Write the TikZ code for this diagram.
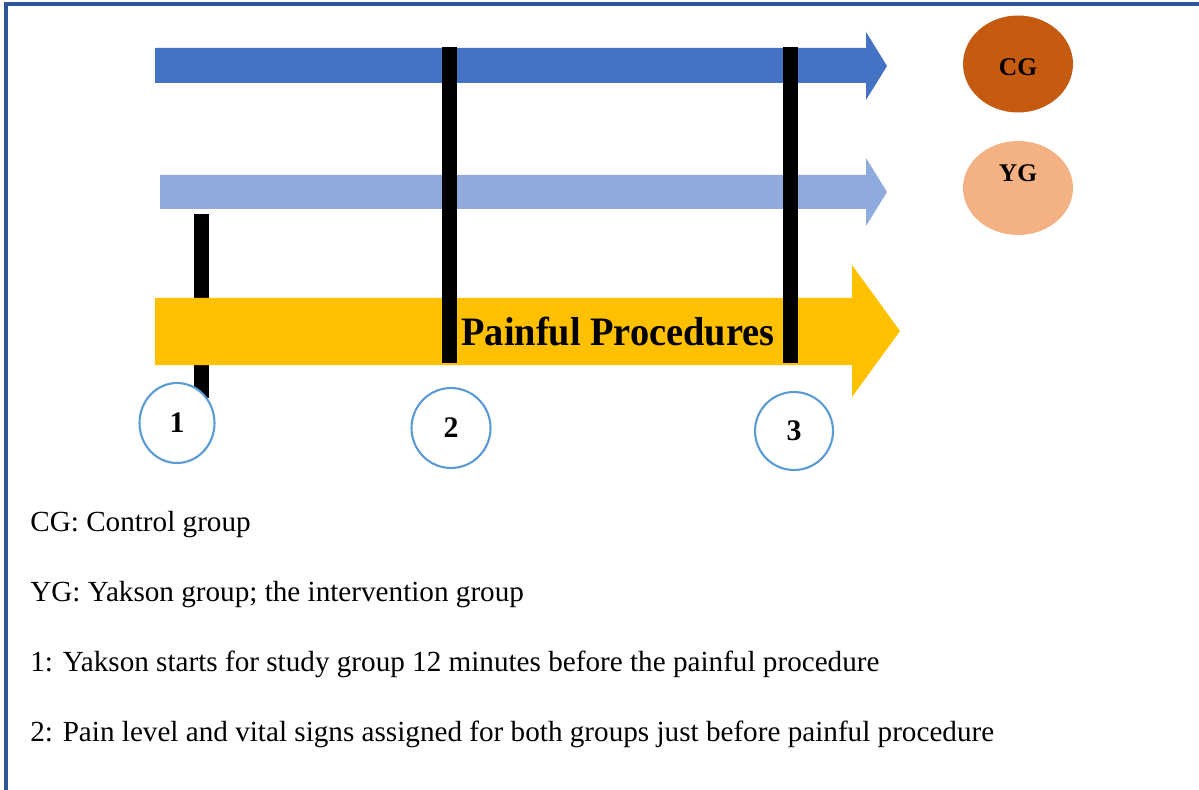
\documentclass[tikz,border=0pt]{standalone}
\usepackage{fontspec}
\setmainfont{Liberation Serif}
\usetikzlibrary{shapes.geometric}
\definecolor{framec}{HTML}{2F5597}
\definecolor{cgblue}{HTML}{4472C4}
\definecolor{ygblue}{HTML}{8FAADC}
\definecolor{procyel}{HTML}{FFC000}
\definecolor{cgorange}{HTML}{C55A11}
\definecolor{ygorange}{HTML}{F4B183}
\definecolor{circc}{HTML}{5B9BD5}
\tikzset{
  bar/.style={fill=black},
  stepcirc/.style={ellipse, draw=circc, line width=1.2pt, fill=white, inner sep=0pt,
     minimum width=1.5cm, minimum height=1.6cm, font=\fontsize{17}{19}\selectfont\bfseries},
  groupell/.style={ellipse, inner sep=0pt, minimum width=2.2cm, minimum height=1.94cm},
  grouplbl/.style={inner sep=0pt, font=\fontsize{14.5}{16}\selectfont\bfseries},
  legend/.style={anchor=base west, inner sep=0pt, font=\fontsize{16.6}{20}\selectfont}
}
\begin{document}
\begin{tikzpicture}[x=0.02cm,y=-0.02cm]
\useasboundingbox (0,0) rectangle (1199,790);
% frame
\draw[framec, line width=1.8pt] (6,790) -- (6,4) -- (1199,4);
% bar 1 (behind the yellow arrow)
\fill[bar] (194,214) rectangle (209,398);
% arrows
\fill[cgblue] (155,48) -- (866,48) -- (866,32) -- (887,66) -- (866,100) -- (866,83) -- (155,83) -- cycle;
\fill[ygblue] (160,175) -- (866,175) -- (866,158) -- (887,192) -- (866,226) -- (866,209) -- (160,209) -- cycle;
\fill[procyel] (155,298) -- (852,298) -- (852,265) -- (900,331) -- (852,397) -- (852,365) -- (155,365) -- cycle;
% bars 2 and 3
\fill[bar] (442,47) rectangle (457,363);
\fill[bar] (783,47) rectangle (798,363);
% label
\node[anchor=base, inner sep=0pt, xscale=0.95, font=\fontsize{23}{26}\selectfont\bfseries] (pp) at (618,345) {Painful Procedures};
% step circles
\node[stepcirc] (s1) at (177,423) {1};
\node[stepcirc, minimum width=1.58cm] (s2) at (451,428) {2};
\node[stepcirc, minimum width=1.56cm, minimum height=1.56cm] (s3) at (794,431) {3};
% group ellipses
\node[groupell, fill=cgorange] (cg) at (1018,64) {};
\node[grouplbl] (cgt) at (1018,67) {CG};
\node[groupell, fill=ygorange, minimum height=1.88cm] (yg) at (1018,188) {};
\node[grouplbl] (ygt) at (1018,173) {YG};
% legend
\node[legend] (l1) at (30,531) {CG: Control group};
\node[legend] (l2) at (30,601) {YG: Yakson group; the intervention group};
\node[legend] (l3) at (30,671) {1: Yakson starts for study group 12 minutes before the painful procedure};
\node[legend] (l4) at (30,741) {2: Pain level and vital signs assigned for both groups just before painful procedure};
\end{tikzpicture}
\end{document}
